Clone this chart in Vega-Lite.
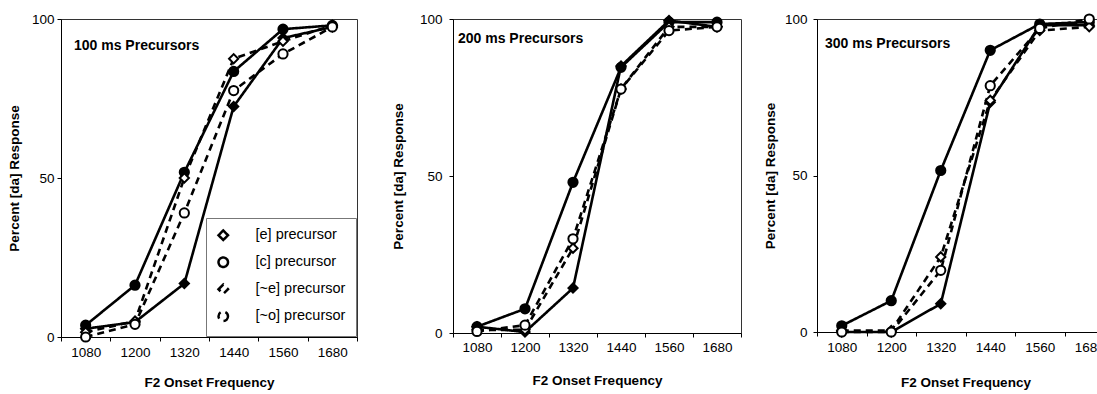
{
  "$schema": "https://vega.github.io/schema/vega-lite/v6.json",
  "background": "white",
  "padding": {"left": 6, "top": 9, "right": 0, "bottom": 0},
  "config": {
    "font": "Liberation Sans",
    "view": {"stroke": "#333", "strokeWidth": 1},
    "axis": {
      "domainColor": "black", "tickColor": "black", "labelColor": "black", "titleColor": "black",
      "labelFont": "Liberation Sans", "titleFont": "Liberation Sans",
      "labelFontSize": 13.5, "titleFontSize": 13.5, "titleFontWeight": "bold",
      "grid": false, "tickSize": 4
    },
    "title": {"font": "Liberation Sans", "fontSize": 14, "fontWeight": "bold", "color": "black", "anchor": "start", "frame": "group", "baseline": "middle", "offset": 0}
  },
  "datasets": {
    "d": [
      {"panel": "100", "freq": "1080", "series": "[e] precursor", "value": 2.6},
      {"panel": "100", "freq": "1200", "series": "[e] precursor", "value": 4.7},
      {"panel": "100", "freq": "1320", "series": "[e] precursor", "value": 16.8},
      {"panel": "100", "freq": "1440", "series": "[e] precursor", "value": 72.5},
      {"panel": "100", "freq": "1560", "series": "[e] precursor", "value": 94},
      {"panel": "100", "freq": "1680", "series": "[e] precursor", "value": 97.5},
      {"panel": "100", "freq": "1080", "series": "[c] precursor", "value": 3.7},
      {"panel": "100", "freq": "1200", "series": "[c] precursor", "value": 16.3},
      {"panel": "100", "freq": "1320", "series": "[c] precursor", "value": 51.8},
      {"panel": "100", "freq": "1440", "series": "[c] precursor", "value": 83.5},
      {"panel": "100", "freq": "1560", "series": "[c] precursor", "value": 96.8},
      {"panel": "100", "freq": "1680", "series": "[c] precursor", "value": 98},
      {"panel": "100", "freq": "1080", "series": "[~e] precursor", "value": 1.5},
      {"panel": "100", "freq": "1200", "series": "[~e] precursor", "value": 5},
      {"panel": "100", "freq": "1320", "series": "[~e] precursor", "value": 50},
      {"panel": "100", "freq": "1440", "series": "[~e] precursor", "value": 87.5},
      {"panel": "100", "freq": "1560", "series": "[~e] precursor", "value": 93},
      {"panel": "100", "freq": "1680", "series": "[~e] precursor", "value": 98},
      {"panel": "100", "freq": "1080", "series": "[~o] precursor", "value": 0},
      {"panel": "100", "freq": "1200", "series": "[~o] precursor", "value": 4},
      {"panel": "100", "freq": "1320", "series": "[~o] precursor", "value": 39},
      {"panel": "100", "freq": "1440", "series": "[~o] precursor", "value": 77.5},
      {"panel": "100", "freq": "1560", "series": "[~o] precursor", "value": 89},
      {"panel": "100", "freq": "1680", "series": "[~o] precursor", "value": 97.5},

      {"panel": "200", "freq": "1080", "series": "[e] precursor", "value": 2},
      {"panel": "200", "freq": "1200", "series": "[e] precursor", "value": 0.3},
      {"panel": "200", "freq": "1320", "series": "[e] precursor", "value": 14.3},
      {"panel": "200", "freq": "1440", "series": "[e] precursor", "value": 85},
      {"panel": "200", "freq": "1560", "series": "[e] precursor", "value": 99.5},
      {"panel": "200", "freq": "1680", "series": "[e] precursor", "value": 97.5},
      {"panel": "200", "freq": "1080", "series": "[c] precursor", "value": 2},
      {"panel": "200", "freq": "1200", "series": "[c] precursor", "value": 7.7},
      {"panel": "200", "freq": "1320", "series": "[c] precursor", "value": 48},
      {"panel": "200", "freq": "1440", "series": "[c] precursor", "value": 84.6},
      {"panel": "200", "freq": "1560", "series": "[c] precursor", "value": 99},
      {"panel": "200", "freq": "1680", "series": "[c] precursor", "value": 99},
      {"panel": "200", "freq": "1080", "series": "[~e] precursor", "value": 1},
      {"panel": "200", "freq": "1200", "series": "[~e] precursor", "value": 1},
      {"panel": "200", "freq": "1320", "series": "[~e] precursor", "value": 27},
      {"panel": "200", "freq": "1440", "series": "[~e] precursor", "value": 77.7},
      {"panel": "200", "freq": "1560", "series": "[~e] precursor", "value": 97.5},
      {"panel": "200", "freq": "1680", "series": "[~e] precursor", "value": 97.5},
      {"panel": "200", "freq": "1080", "series": "[~o] precursor", "value": 0.5},
      {"panel": "200", "freq": "1200", "series": "[~o] precursor", "value": 2.5},
      {"panel": "200", "freq": "1320", "series": "[~o] precursor", "value": 30},
      {"panel": "200", "freq": "1440", "series": "[~o] precursor", "value": 77.7},
      {"panel": "200", "freq": "1560", "series": "[~o] precursor", "value": 96.3},
      {"panel": "200", "freq": "1680", "series": "[~o] precursor", "value": 97.5},

      {"panel": "300", "freq": "1080", "series": "[e] precursor", "value": 0},
      {"panel": "300", "freq": "1200", "series": "[e] precursor", "value": 0},
      {"panel": "300", "freq": "1320", "series": "[e] precursor", "value": 9},
      {"panel": "300", "freq": "1440", "series": "[e] precursor", "value": 73.4},
      {"panel": "300", "freq": "1560", "series": "[e] precursor", "value": 98},
      {"panel": "300", "freq": "1680", "series": "[e] precursor", "value": 98},
      {"panel": "300", "freq": "1080", "series": "[c] precursor", "value": 2},
      {"panel": "300", "freq": "1200", "series": "[c] precursor", "value": 10},
      {"panel": "300", "freq": "1320", "series": "[c] precursor", "value": 51.6},
      {"panel": "300", "freq": "1440", "series": "[c] precursor", "value": 90},
      {"panel": "300", "freq": "1560", "series": "[c] precursor", "value": 98.4},
      {"panel": "300", "freq": "1680", "series": "[c] precursor", "value": 99},
      {"panel": "300", "freq": "1080", "series": "[~e] precursor", "value": 0.5},
      {"panel": "300", "freq": "1200", "series": "[~e] precursor", "value": 0.5},
      {"panel": "300", "freq": "1320", "series": "[~e] precursor", "value": 24},
      {"panel": "300", "freq": "1440", "series": "[~e] precursor", "value": 74},
      {"panel": "300", "freq": "1560", "series": "[~e] precursor", "value": 96.3},
      {"panel": "300", "freq": "1680", "series": "[~e] precursor", "value": 97.5},
      {"panel": "300", "freq": "1080", "series": "[~o] precursor", "value": 0},
      {"panel": "300", "freq": "1200", "series": "[~o] precursor", "value": 0},
      {"panel": "300", "freq": "1320", "series": "[~o] precursor", "value": 19.7},
      {"panel": "300", "freq": "1440", "series": "[~o] precursor", "value": 78.7},
      {"panel": "300", "freq": "1560", "series": "[~o] precursor", "value": 97},
      {"panel": "300", "freq": "1680", "series": "[~o] precursor", "value": 100}
    ]
  },
  "spacing": 20,
  "resolve": {"scale": {"shape": "independent", "strokeDash": "independent"}, "legend": {"shape": "independent", "strokeDash": "independent"}},
  "hconcat": [
    {
      "spacing": 32,
      "resolve": {"scale": {"shape": "independent", "strokeDash": "independent"}, "legend": {"shape": "independent", "strokeDash": "independent"}},
      "hconcat": [
        {
          "width": 296, "height": 318,
          "title": {"text": "100 ms Precursors", "dx": 13, "dy": 45},
          "data": {"name": "d"},
          "transform": [{"filter": "datum.panel === '100'"}],
          "encoding": {
            "x": {"field": "freq", "type": "ordinal", "scale": {"type": "band", "paddingInner": 0, "paddingOuter": 0}, "axis": {"title": "F2 Onset Frequency", "labelAngle": 0, "tickBand": "extent", "labelPadding": 4, "titlePadding": 17}},
            "y": {"field": "value", "type": "quantitative", "scale": {"domain": [0, 100], "nice": false}, "axis": {"title": "Percent [da] Response", "values": [0, 50, 100], "labelPadding": 3, "titlePadding": 10}}
          },
          "layer": [
            {"mark": {"type": "line", "color": "black", "strokeWidth": 2.6},
             "encoding": {"strokeDash": {"field": "series", "type": "nominal", "scale": {"domain": ["[e] precursor", "[c] precursor", "[~e] precursor", "[~o] precursor"], "range": [[1, 0], [1, 0], [7, 5], [7, 5]]},
               "legend": {"title": null, "orient": "bottom-right", "offset": 1, "strokeColor": "#777", "fillColor": "white", "padding": 10, "symbolSize": 90, "labelFont": "Liberation Sans", "labelFontSize": 14.5, "labelColor": "black", "labelOffset": 25, "rowPadding": 7, "symbolStrokeWidth": 2.5, "symbolStrokeColor": "black"}}}},
            {"mark": {"type": "point", "filled": false, "stroke": "black", "strokeWidth": 2, "opacity": 1},
             "encoding": {
               "shape": {"field": "series", "type": "nominal", "scale": {"domain": ["[e] precursor", "[c] precursor", "[~e] precursor", "[~o] precursor"], "range": ["diamond", "circle", "diamond", "circle"]}, "legend": null},
               "fill": {"condition": {"test": "indexof(datum.series, '~') >= 0", "value": "white"}, "value": "black"},
               "size": {"value": 85}
             }}
          ]
        },
        {
          "width": 288, "height": 314,
          "title": {"text": "200 ms Precursors", "dx": 5, "dy": 38},
          "data": {"name": "d"},
          "transform": [{"filter": "datum.panel === '200'"}],
          "encoding": {
            "x": {"field": "freq", "type": "ordinal", "scale": {"type": "band", "paddingInner": 0, "paddingOuter": 0}, "axis": {"title": "F2 Onset Frequency", "labelAngle": 0, "tickBand": "extent", "labelPadding": 3, "titlePadding": 20}},
            "y": {"field": "value", "type": "quantitative", "scale": {"domain": [0, 100], "nice": false}, "axis": {"title": "Percent [da] Response", "values": [0, 50, 100], "labelPadding": 7, "titlePadding": 14}}
          },
          "layer": [
            {"mark": {"type": "line", "color": "black", "strokeWidth": 2.6},
             "encoding": {"strokeDash": {"field": "series", "type": "nominal", "scale": {"domain": ["[e] precursor", "[c] precursor", "[~e] precursor", "[~o] precursor"], "range": [[1, 0], [1, 0], [7, 5], [7, 5]]}, "legend": null}}},
            {"mark": {"type": "point", "filled": false, "stroke": "black", "strokeWidth": 2, "opacity": 1},
             "encoding": {
               "shape": {"field": "series", "type": "nominal", "scale": {"domain": ["[e] precursor", "[c] precursor", "[~e] precursor", "[~o] precursor"], "range": ["diamond", "circle", "diamond", "circle"]}, "legend": null},
               "fill": {"condition": {"test": "indexof(datum.series, '~') >= 0", "value": "white"}, "value": "black"},
               "size": {"value": 85}
             }}
          ]
        }
      ]
    },
    {
      "width": 297, "height": 313,
      "title": {"text": "300 ms Precursors", "dx": 8, "dy": 45},
      "data": {"name": "d"},
      "transform": [{"filter": "datum.panel === '300'"}],
      "encoding": {
        "x": {"field": "freq", "type": "ordinal", "scale": {"type": "band", "paddingInner": 0, "paddingOuter": 0}, "axis": {"title": "F2 Onset Frequency", "labelAngle": 0, "tickBand": "extent", "labelPadding": 4, "titlePadding": 22}},
        "y": {"field": "value", "type": "quantitative", "scale": {"domain": [0, 100], "nice": false}, "axis": {"title": "Percent [da] Response", "values": [0, 50, 100], "labelPadding": 6, "titlePadding": 7}}
      },
      "layer": [
        {"mark": {"type": "line", "color": "black", "strokeWidth": 2.6},
         "encoding": {"strokeDash": {"field": "series", "type": "nominal", "scale": {"domain": ["[e] precursor", "[c] precursor", "[~e] precursor", "[~o] precursor"], "range": [[1, 0], [1, 0], [7, 5], [7, 5]]}, "legend": null}}},
        {"mark": {"type": "point", "filled": false, "stroke": "black", "strokeWidth": 2, "opacity": 1},
         "encoding": {
           "shape": {"field": "series", "type": "nominal", "scale": {"domain": ["[e] precursor", "[c] precursor", "[~e] precursor", "[~o] precursor"], "range": ["diamond", "circle", "diamond", "circle"]}, "legend": null},
           "fill": {"condition": {"test": "indexof(datum.series, '~') >= 0", "value": "white"}, "value": "black"},
           "size": {"value": 85}
         }}
      ]
    }
  ]
}
